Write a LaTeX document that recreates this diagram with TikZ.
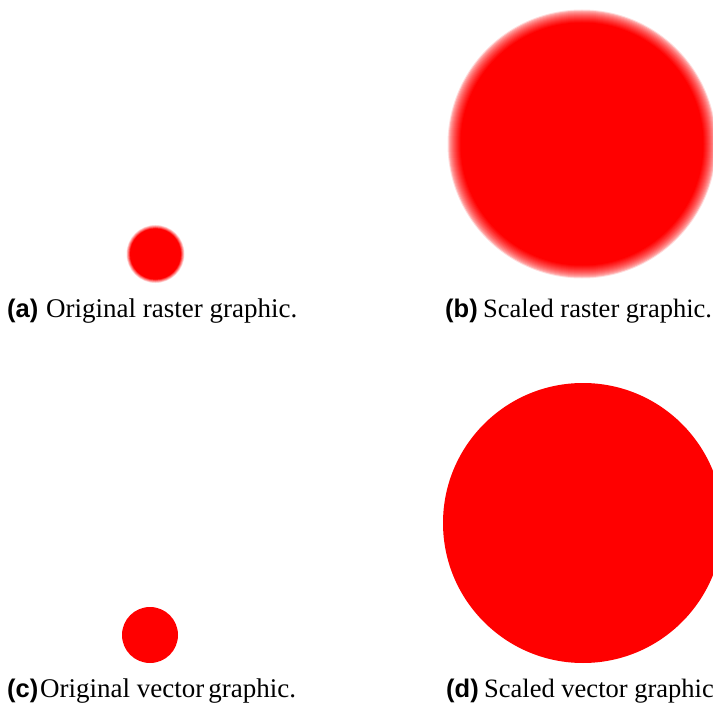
\documentclass[tikz,border=0pt]{standalone}
\usepackage{fontspec}
\setmainfont{Liberation Serif}
\newfontfamily\lblfont{Liberation Sans}
\begin{document}
\begin{tikzpicture}[x=1pt,y=-1pt,
  captext/.style={anchor=base west, inner sep=0pt, font=\fontsize{27}{32}\selectfont},
  captextr/.style={anchor=base west, inner sep=0pt, font=\fontsize{26.5}{32}\selectfont},
  caplbl/.style={anchor=base west, inner sep=0pt, font=\fontsize{25.5}{32}\selectfont\lblfont\bfseries}]
\useasboundingbox (0,0) rectangle (713,706);
\clip (0,0) rectangle (713,706);
% raster graphic (a): small blurred disc
\foreach \i in {0,...,8} {
  \pgfmathsetmacro\rr{29.5-0.5*\i}
  \pgfmathsetmacro\pp{100*\i/8}
  \fill[red!\pp!white] (155.5,254) circle (\rr pt);
}
% raster graphic (b): scaled, blurred disc
\foreach \i in {0,...,13} {
  \pgfmathsetmacro\rr{134.5-\i}
  \pgfmathsetmacro\pp{12+88*(\i/13)^0.6}
  \fill[red!\pp!white] (582,144) circle (\rr pt);
}
% vector graphics
\fill[red] (150,635) circle (28pt);
\fill[red] (583,523) circle (140pt);
% captions
\node[caplbl]  (labela) at (7,317) {(a)};
\node[captext] (capa) at (46,317) {Original raster graphic.};
\node[caplbl]  (labelb) at (445,317) {(b)};
\node[captextr] (capb) at (483,317) {Scaled raster graphic.};
\node[caplbl]  (labelc) at (7,697) {(c)};
\node[captext] (capc) at (40,697) {Original vector\hspace{4pt}graphic.};
\node[caplbl]  (labeld) at (446,697) {(d)};
\node[captextr] (capd) at (484,697) {Scaled vector graphic};
\end{tikzpicture}
\end{document}
